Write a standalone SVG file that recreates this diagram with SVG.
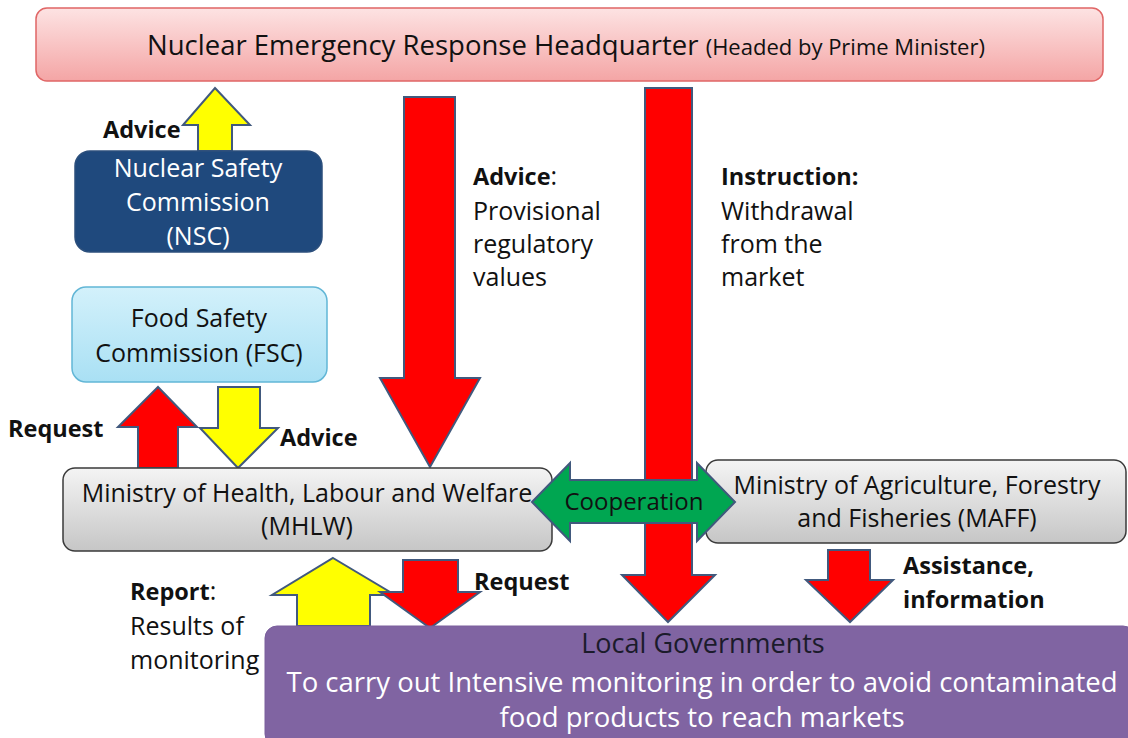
<svg xmlns="http://www.w3.org/2000/svg" width="1128" height="738" viewBox="0 0 1128 738">
  <defs>
    <linearGradient id="gHq" x1="0" y1="0" x2="0" y2="1">
      <stop offset="0" stop-color="#fde3e3"/>
      <stop offset="1" stop-color="#f4a5a5"/>
    </linearGradient>
    <linearGradient id="gFsc" x1="0" y1="0" x2="0" y2="1">
      <stop offset="0" stop-color="#d3f1fb"/>
      <stop offset="1" stop-color="#a9e0f4"/>
    </linearGradient>
    <linearGradient id="gMin" x1="0" y1="0" x2="0" y2="1">
      <stop offset="0" stop-color="#f4f4f4"/>
      <stop offset="1" stop-color="#c6c6c6"/>
    </linearGradient>
    <style>
      text { font-family: "Open Sans", Lato, "Liberation Sans", sans-serif; fill: #111; }
      .lbl { font-size: 25px; }
      .bl { font-size: 23.5px; font-weight: bold; }
      .box { font-size: 25px; }
      .b { font-weight: bold; font-size: 23.5px; }
      .mid { text-anchor: middle; }
      .arrow { stroke: #41597d; stroke-width: 2; stroke-linejoin: miter; }
      .red { fill: #ff0000; }
      .yel { fill: #ffff00; }
      .grn { fill: #00a651; }
    </style>
  </defs>

  <rect width="1128" height="738" fill="#ffffff"/>

  <!-- top headquarters box -->
  <g id="hq">
    <rect x="36" y="8" width="1067" height="73" rx="11" fill="url(#gHq)" stroke="#e06666" stroke-width="1.5"/>
    <text x="147" y="55" style="font-size:27.5px">Nuclear Emergency Response Headquarter <tspan style="font-size:22px">(Headed by Prime Minister)</tspan></text>
  </g>

  <!-- connectors (block arrows) -->
  <g id="connectors">
    <path class="arrow red" d="M404,97 H455 V378 H480 L430,467 L380,378 H404 Z"/>
    <path class="arrow red" d="M645,88 H692 V575 H715 L668,622 L622,575 H645 Z"/>
    <path class="arrow yel" d="M215,88 L250,125 H232 V151 H198 V125 H183 Z"/>
    <path class="arrow red" d="M158,387 L197,427 H178 V468 H138 V427 H118 Z"/>
    <path class="arrow yel" d="M218,387 H260 V428 H278 L238,468 L200,428 H218 Z"/>
    <path class="arrow yel" d="M333,558 L395,595 H370 V626 H297 V595 H272 Z"/>
    <path class="arrow red" d="M403,560 H458 V592 H480 L430,628 L380,592 H403 Z"/>
    <path class="arrow red" d="M828,550 H870 V580 H893 L850,622 L806,580 H828 Z"/>
  </g>

  <!-- arrow labels -->
  <g id="labels">
    <text class="bl" x="103" y="138">Advice</text>
    <text class="lbl" x="473" y="185"><tspan class="b">Advice</tspan>:</text>
    <text class="lbl" x="473" y="220">Provisional</text>
    <text class="lbl" x="473" y="253">regulatory</text>
    <text class="lbl" x="473" y="286">values</text>
    <text class="bl" x="721" y="185">Instruction:</text>
    <text class="lbl" x="721" y="220">Withdrawal</text>
    <text class="lbl" x="721" y="253">from the</text>
    <text class="lbl" x="721" y="286">market</text>
    <text class="bl" x="8" y="437">Request</text>
    <text class="bl" x="280" y="446">Advice</text>
    <text class="bl" x="474" y="590">Request</text>
    <text class="bl" x="903" y="574">Assistance,</text>
    <text class="bl" x="903" y="608">information</text>
    <text class="lbl" x="130" y="600"><tspan class="b">Report</tspan>:</text>
    <text class="lbl" x="130" y="635">Results of</text>
    <text class="lbl" x="130" y="669">monitoring</text>
  </g>

  <g id="nsc">
    <rect x="75" y="151" width="247" height="101" rx="15" fill="#1f497d" stroke="#2c4f7c" stroke-width="1.5"/>
    <text class="mid box" x="198" y="177" style="fill:#fff">Nuclear Safety</text>
    <text class="mid box" x="198" y="211" style="fill:#fff">Commission</text>
    <text class="mid box" x="198" y="245" style="fill:#fff">(NSC)</text>
  </g>

  <g id="fsc">
    <rect x="72" y="287" width="255" height="95" rx="14" fill="url(#gFsc)" stroke="#62b6d6" stroke-width="1.5"/>
    <text class="mid box" x="199" y="327">Food Safety</text>
    <text class="mid box" x="199" y="362">Commission (FSC)</text>
  </g>

  <g id="mhlw">
    <rect x="63" y="468" width="489" height="83" rx="12" fill="url(#gMin)" stroke="#3a3a3a" stroke-width="1.5"/>
    <text class="mid box" x="307" y="502">Ministry of Health, Labour and Welfare</text>
    <text class="mid box" x="307" y="535">(MHLW)</text>
  </g>

  <g id="maff">
    <rect x="706" y="460" width="420" height="83" rx="12" fill="url(#gMin)" stroke="#3a3a3a" stroke-width="1.5"/>
    <text class="mid box" x="917" y="494">Ministry of Agriculture, Forestry</text>
    <text class="mid box" x="917" y="527">and Fisheries (MAFF)</text>
  </g>

  <!-- two-way cooperation arrow, drawn over both ministries -->
  <g id="cooperation">
    <path class="arrow grn" d="M532,502 L570,463 V480 H697 V463 L735,502 L697,541 V523 H570 V541 Z"/>
    <text class="mid" x="634" y="510" style="font-size:24px">Cooperation</text>
  </g>

  <g id="local">
    <rect x="265" y="626" width="870" height="120" rx="12" fill="#8064a2" stroke="#7a5f9c" stroke-width="1"/>
    <text class="mid" x="703" y="653" style="font-size:27px;fill:#1b1b2b">Local Governments</text>
    <text class="mid" x="702" y="692" style="font-size:27.5px;fill:#fff">To carry out Intensive monitoring in order to avoid contaminated</text>
    <text class="mid" x="702" y="727" style="font-size:27.5px;fill:#fff">food products to reach markets</text>
  </g>
</svg>
